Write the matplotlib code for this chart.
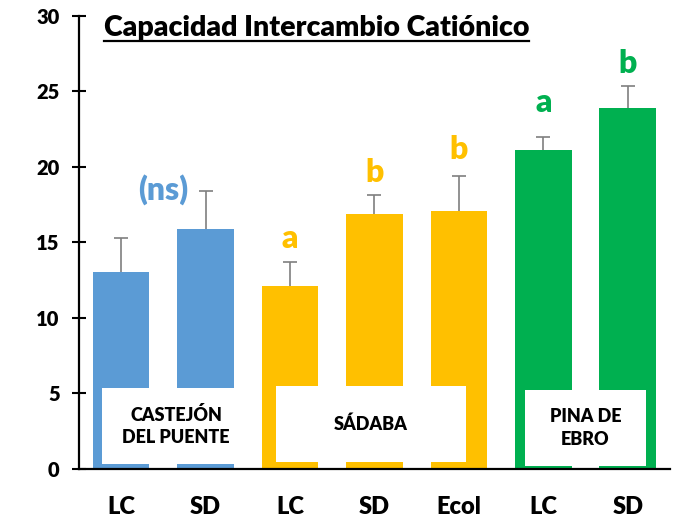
import matplotlib
matplotlib.use('Agg')
import matplotlib.pyplot as plt
from matplotlib.patches import Rectangle
from matplotlib.lines import Line2D
import numpy as np

# data
categories = ['LC', 'SD', 'LC', 'SD', 'Ecol', 'LC', 'SD']
values = [13.0, 15.9, 12.1, 16.9, 17.1, 21.1, 23.9]
err_up = [2.3, 2.5, 1.6, 1.2, 2.3, 0.9, 1.45]
letters = ['', '', 'a', 'b', 'b', 'a', 'b']
letter_y = [0, 0, 14.6, 19.0, 20.5, 23.6, 26.2]
sites = ['CASTEJÓN\nDEL PUENTE', 'SÁDABA', 'PINA DE\nEBRO']

blue, yellow, green = '#5B9BD5', '#FFC000', '#00B050'
colors = [blue, blue, yellow, yellow, yellow, green, green]

plt.rcParams['font.family'] = ['Lato', 'DejaVu Sans']
plt.rcParams['font.weight'] = 'heavy'

fig = plt.figure(figsize=(6.74, 5.23), dpi=100)
ax = fig.add_axes([0.1172, 0.1038, 0.8768, 0.866])

x = np.arange(len(categories))
ax.bar(x, values, width=0.67, color=colors, zorder=2)
eb = ax.errorbar(x, values, yerr=[np.zeros(len(x)), err_up], fmt='none',
                 ecolor='#7F7F7F', elinewidth=1.2, capsize=5, capthick=1.2, zorder=3)
eb[1][0].set_visible(False)  # hide lower caps

for xi, lab, ly, c in zip(x, letters, letter_y, colors):
    if lab:
        ax.text(xi, ly, lab, color=c, fontsize=23, fontweight='heavy',
                ha='center', va='baseline', zorder=5)
ax.text(0.5, 17.8, '(ns)', color=blue, fontsize=23, fontweight='heavy',
        ha='center', va='baseline', zorder=5)

# white site boxes
boxes = [(-0.23, 1.53, 0.31, 5.36), (1.834, 4.085, 0.44, 5.5), (4.784, 6.214, 0.2, 5.21)]
for (x0, x1, y0, y1), name in zip(boxes, sites):
    ax.add_patch(Rectangle((x0, y0), x1 - x0, y1 - y0, facecolor='white',
                           edgecolor='none', zorder=4))
    ax.text((x0 + x1) / 2, (y0 + y1) / 2, name, fontsize=13, fontweight='heavy',
            ha='center', va='center', linespacing=1.4, zorder=5)

ax.set_xlim(-0.5, 6.5)
ax.set_ylim(0, 30)
ax.set_yticks(range(0, 31, 5))
ax.set_xticks(x)
ax.set_xticklabels(categories)
ax.tick_params(axis='x', length=0, pad=20, labelsize=17)
ax.tick_params(axis='y', direction='inout', length=10, width=1.5, pad=9, labelsize=14.5)
for side in ['top', 'right']:
    ax.spines[side].set_visible(False)
for side in ['left', 'bottom']:
    ax.spines[side].set_linewidth(1.6)

title = fig.text(0.4698, 1 - 36 / 523, 'Capacidad Intercambio Catiónico',
                 fontsize=20.5, fontweight='heavy', ha='center', va='baseline')
fig.canvas.draw()
bb = title.get_window_extent().transformed(fig.transFigure.inverted())
uy = 1 - 41 / 523
fig.add_artist(Line2D([bb.x0, bb.x1], [uy, uy], color='black', lw=1.6,
                      transform=fig.transFigure))

fig.savefig('out.png', dpi=100)
